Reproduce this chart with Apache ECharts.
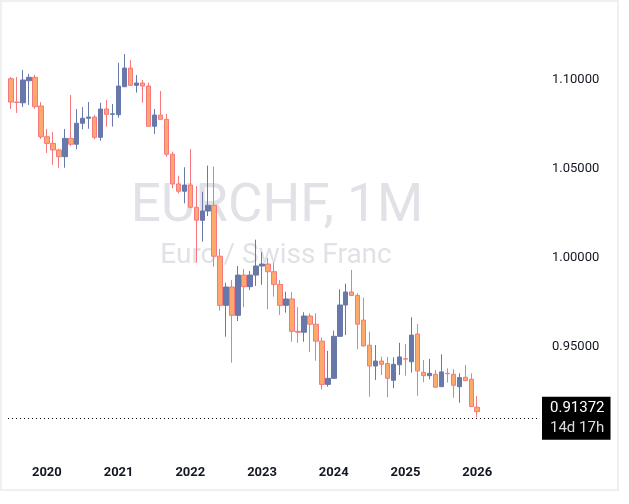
<!DOCTYPE html>
<html><head><meta charset="utf-8">
<script src="https://cdn.jsdelivr.net/npm/echarts@6/dist/echarts.min.js"></script>
<style>html,body{margin:0;padding:0;background:#fff}#c{width:629px;height:504px}</style>
</head><body><div id="c"></div>
<script>
const opens=[1.1007,1.0876,1.0872,1.0996,1.1015,1.0854,1.0681,1.0644,1.0607,1.0569,1.0672,1.0639,1.0757,1.0785,1.0792,1.0678,1.0837,1.0807,1.0805,1.0962,1.1067,1.0970,1.0983,1.0966,1.0740,1.0803,1.0779,1.0583,1.0416,1.0375,1.0410,1.0285,1.0212,1.0264,1.0296,1.0010,0.9734,0.9837,0.9678,0.9904,0.9839,0.9904,0.9955,0.9966,0.9923,0.9852,0.9734,0.9770,0.9588,0.9583,0.9674,0.9628,0.9533,0.9290,0.9324,0.9560,0.9736,0.9809,0.9790,0.9651,0.9510,0.9393,0.9421,0.9407,0.9313,0.9400,0.9434,0.9417,0.9573,0.9358,0.9339,0.9347,0.9277,0.9352,0.9347,0.9277,0.9330,0.9319,0.9162];
const closes=[1.0876,1.0874,1.1000,1.1015,1.0850,1.0681,1.0644,1.0607,1.0569,1.0672,1.0639,1.0757,1.0785,1.0792,1.0678,1.0837,1.0807,1.0810,1.0966,1.1067,1.0970,1.0983,1.0966,1.0740,1.0803,1.0779,1.0583,1.0416,1.0375,1.0410,1.0285,1.0212,1.0264,1.0296,1.0010,0.9734,0.9837,0.9678,0.9904,0.9839,0.9904,0.9955,0.9966,0.9923,0.9852,0.9734,0.9770,0.9588,0.9583,0.9674,0.9628,0.9533,0.9290,0.9324,0.9560,0.9736,0.9809,0.9790,0.9628,0.9506,0.9393,0.9421,0.9403,0.9324,0.9403,0.9444,0.9432,0.9567,0.9365,0.9339,0.9352,0.9274,0.9360,0.9350,0.9285,0.9328,0.9311,0.9165,0.91372];
const highs=[1.1017,1.1017,1.1056,1.1034,1.1030,1.0876,1.0725,1.0708,1.0614,1.0725,1.0916,1.0837,1.0848,1.0876,1.0803,1.0872,1.0888,1.0865,1.1097,1.1146,1.1112,1.1028,1.1000,1.0985,1.0837,1.0938,1.0809,1.0597,1.0462,1.0510,1.0612,1.0404,1.0372,1.0519,1.0513,1.0051,0.9861,0.9876,0.9955,0.9938,0.9927,1.0103,1.0032,1.0000,0.9974,0.9876,0.9811,0.9809,0.9723,0.9695,0.9689,0.9689,0.9552,0.9478,0.9592,0.9824,0.9856,0.9933,0.9802,0.9777,0.9586,0.9511,0.9445,0.9445,0.9442,0.9524,0.9517,0.9667,0.9629,0.9427,0.9433,0.9371,0.9459,0.9380,0.9376,0.9352,0.9399,0.9352,0.9225];
const lows=[1.0837,1.0815,1.0848,1.0860,1.0839,1.0669,1.0590,1.0524,1.0507,1.0507,1.0629,1.0611,1.0723,1.0726,1.0667,1.0659,1.0738,1.0738,1.0788,1.0962,1.0970,1.0929,1.0872,1.0737,1.0697,1.0779,1.0569,1.0392,1.0363,1.0307,1.0279,0.9974,1.0092,1.0236,0.9951,0.9704,0.9558,0.9412,0.9646,0.9723,0.9820,0.9843,0.9850,0.9712,0.9783,0.9680,0.9693,0.9530,0.9524,0.9530,0.9472,0.9423,0.9262,0.9277,0.9320,0.9558,0.9567,0.9787,0.9487,0.9502,0.9221,0.9315,0.9343,0.9217,0.9268,0.9343,0.9339,0.9356,0.9226,0.9302,0.9319,0.9274,0.9277,0.9300,0.9215,0.9187,0.9311,0.9165,0.9105];
const priceTicks=[0.95,1.00,1.05,1.10];
const lastPrice=0.91372;
const months=[];
for(let i=0;i<89;i++){const m=6+i;months.push((2019+Math.floor(m/12))+'-'+String(m%12+1).padStart(2,'0'));}
const data=months.map((d,i)=>i<opens.length?[opens[i],closes[i],lows[i],highs[i]]:'-');
const chart=echarts.init(document.getElementById('c'));
chart.setOption({
 animation:false,
 graphic:[
  {type:'rect',shape:{x:1,y:1,width:617,height:489},style:{fill:'none',stroke:'#f0f0f0',lineWidth:2},z:-1},
  {type:'text',x:277,y:208,style:{text:'EURCHF, 1M',font:'53px Roboto',fill:'#e1e2e7',textAlign:'center',textVerticalAlign:'middle'},z:-1},
  {type:'text',x:276,y:256,style:{text:'Euro / Swiss Franc',font:'28px Roboto',fill:'#e1e2e7',textAlign:'center',textVerticalAlign:'middle'},z:-1}
 ],
 grid:{left:8,right:89,top:8.8,bottom:50.2},
 xAxis:{type:'category',data:months,boundaryGap:true,
  axisLine:{show:false},axisTick:{show:false},splitLine:{show:false},
  axisLabel:{interval:(i,v)=>v.endsWith('-01'),formatter:v=>v.slice(0,4),margin:12,color:'#131722',fontSize:13,fontWeight:'bold',fontFamily:'Roboto'}},
 yAxis:{type:'value',position:'right',min:0.89,max:1.14,scale:true,
  axisLine:{show:false},axisTick:{show:false},splitLine:{show:false},
  axisLabel:{customValues:priceTicks,formatter:v=>v.toFixed(5),color:'#131722',fontSize:13,fontFamily:'Roboto',margin:12}},
 series:[{type:'candlestick',data:data,barWidth:5,
  itemStyle:{color:'#6878ab',color0:'#fcaa6c',borderColor:'#6878ab',borderColor0:'#f7777f',borderWidth:1},
  markLine:{silent:true,symbol:'none',data:[{yAxis:lastPrice}],
   lineStyle:{type:[1,3],color:'#000',width:1},
   label:{position:'end',distance:2,formatter:'{a|0.91372}\n{b|14d 17h}',backgroundColor:'#000',padding:[2,6,1,8],
    rich:{a:{color:'#fff',fontSize:15,fontFamily:'Roboto',lineHeight:20},b:{color:'#ddd',fontSize:15,fontFamily:'Roboto',lineHeight:20}}}}
 }]
});
</script></body></html>
